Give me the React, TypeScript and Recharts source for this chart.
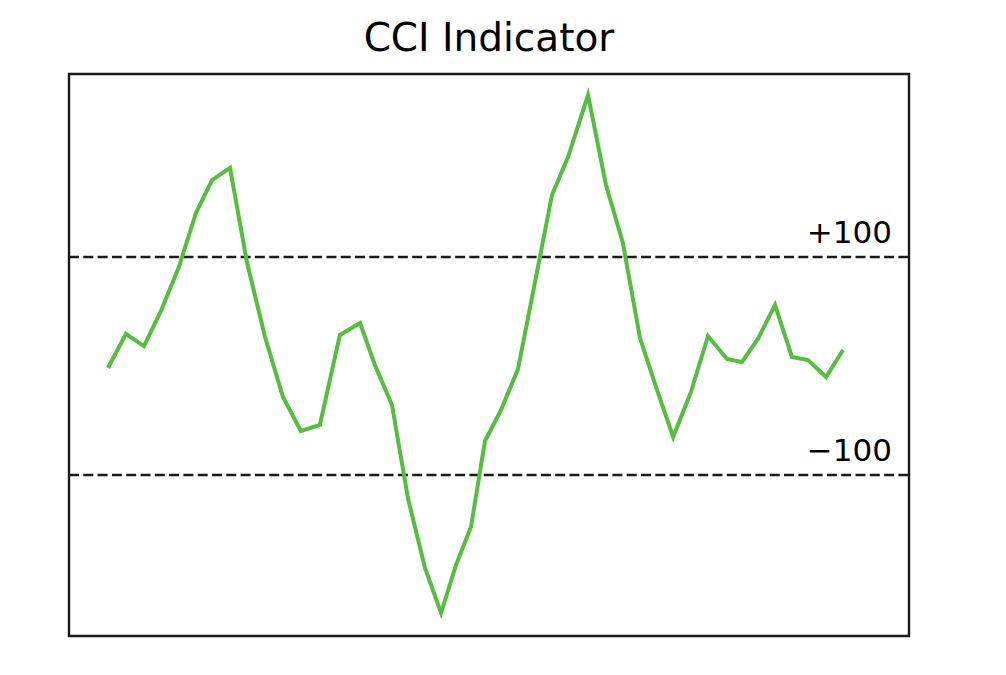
import React from 'react';
import { LineChart, Line, XAxis, YAxis, ReferenceLine, ReferenceArea } from 'recharts';

const title = 'CCI Indicator';

// time position of each observation (trading-day units)
const days = [
  0, 1.05, 2.11, 3.1, 4.15, 5.15, 6.09, 7.14, 8.13, 9.19, 10.24, 11.29, 12.4, 13.57, 14.75,
  15.62, 16.62, 17.55, 18.55, 19.49, 20.36, 21.24, 22.06, 23.0, 23.99, 24.99, 25.98, 26.92,
  28.09, 29.14, 30.13, 31.13, 32.07, 33.07, 34.11, 35.11, 36.22, 37.1, 38.03, 39.03, 40.02,
  40.96, 42.02, 43.01,
];

const cci = [
  -1.8, 29.4, 18.3, 50.5, 90.8, 140.4, 170.6, 181.7, 95.4, 26.6, -28.4, -59.6, -54.1, 28.4, 39.4,
  0.9, -35.8, -121.1, -185.3, -226.6, -182.6, -147.7, -68.8, -40.4, -2.8, 77.1, 156.9, 191.7,
  248.6, 166.1, 112.8, 25.7, -19.3, -65.1, -23.9, 27.5, 6.4, 3.7, 24.8, 56.0, 8.3,
  5.5, -10.1, 14.7,
];

const thresholds = [100, -100];
const thresholdLabels = ['+100', '\u2212100'];

const xDomain: [number, number] = [-2.28, 46.87];
const yDomain: [number, number] = [-247.7, 267.9];

const data = days.map((d, i) => ({ day: d, cci: cci[i] }));

const FONT = '"DejaVu Sans", sans-serif';

export default function App() {
  return (
    <div style={{ position: 'absolute', left: 0, top: 0, width: 1006, height: 675, background: '#fff' }}>
      <LineChart
        width={1006}
        height={675}
        data={data}
        margin={{ top: 74, right: 97, bottom: 39, left: 69 }}
      >
        <XAxis dataKey="day" type="number" domain={xDomain} hide allowDataOverflow />
        <YAxis type="number" domain={yDomain} hide allowDataOverflow />
        {thresholds.map((t, i) => (
          <ReferenceLine
            key={t}
            y={t}
            stroke="#1a1a1a"
            strokeWidth={2.7}
            strokeDasharray="10 4.3"
            label={(props: any) => {
              const vb = props.viewBox || {};
              return (
                <text
                  x={vb.x + vb.width - 17}
                  y={vb.y - 14}
                  textAnchor="end"
                  fontFamily={FONT}
                  fontSize={31}
                  fill="#000"
                >
                  {thresholdLabels[i]}
                </text>
              );
            }}
          />
        ))}
        <Line
          type="linear"
          dataKey="cci"
          stroke="#56bd40"
          strokeWidth={4}
          dot={false}
          activeDot={false}
          isAnimationActive={false}
        />
        <ReferenceArea
          x1={xDomain[0]}
          x2={xDomain[1]}
          y1={yDomain[0]}
          y2={yDomain[1]}
          fill="none"
          fillOpacity={0}
          stroke="#1a1a1a"
          strokeWidth={2.4}
          ifOverflow="visible"
        />
      </LineChart>
      <svg
        width={1006}
        height={675}
        style={{ position: 'absolute', left: 0, top: 0, pointerEvents: 'none' }}
      >
        <text x={489} y={51} textAnchor="middle" fontFamily={FONT} fontSize={39} fill="#000">
          {title}
        </text>
      </svg>
    </div>
  );
}
